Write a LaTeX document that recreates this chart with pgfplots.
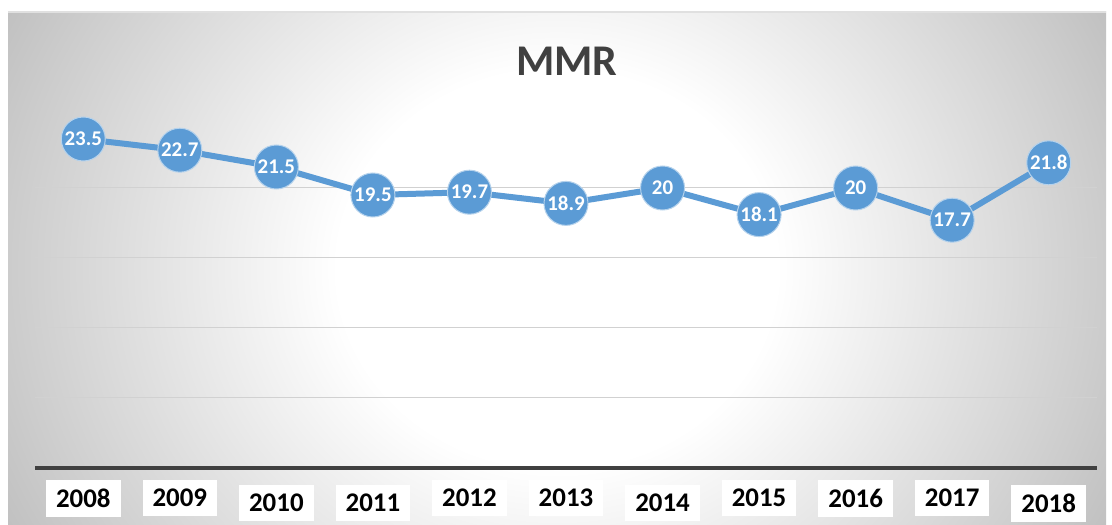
\documentclass[border=0pt]{standalone}
\usepackage{pgfplots}
\pgfplotsset{compat=1.18}
\usepackage{fontspec}
\setmainfont{Carlito}
\definecolor{lineblue}{HTML}{5B9BD5}
\definecolor{titlegray}{HTML}{404040}
\pgfdeclareradialshading{bgshade}{\pgfpoint{0bp}{0bp}}{color(0bp)=(white); color(10bp)=(white); color(25bp)=(black!20); color(30bp)=(black!27); color(50bp)=(black!27)}
\begin{document}
\begin{tikzpicture}
\path[use as bounding box] (0,0) rectangle (1112bp,525bp);
\begin{scope}
\clip (8bp,0) rectangle (1106bp,513bp);
\shade[shading=bgshade] (8bp,-240bp) rectangle (1106bp,753bp);
\end{scope}
\draw[black!12, line width=1.5bp] (8bp,513bp) -- (1106bp,513bp);
\node[font=\bfseries\fontsize{44}{50}\selectfont, text=titlegray] at (567bp,464bp) {MMR};
\begin{axis}[
  at={(35bp,57bp)}, anchor=south west, scale only axis,
  width=1062bp, height=350bp,
  xmin=-0.5, xmax=10.5, ymin=0, ymax=25,
  axis x line*=bottom, axis y line*=left,
  y axis line style={draw=none},
  x axis line style={draw=black!75, line width=3bp},
  ytick={5,10,15,20}, yticklabels={}, ytick style={draw=none},
  ymajorgrids, major grid style={draw=black!18, line width=1bp},
  xtick={0,1,4,5,7,8,9},
  xticklabels={2008,2009,2012,2013,2015,2016,2017},
  extra x ticks={2,3,6,10},
  extra x tick labels={2010,2011,2014,2018},
  extra x tick style={xticklabel style={yshift=-5bp}},
  xtick style={draw=none},
  xticklabel style={fill=white, text=black, font=\bfseries\fontsize{27}{31}\selectfont, inner xsep=10bp, inner ysep=9bp, yshift=-12bp},
  clip=false,
  nodes near coords,
  every node near coord/.append style={anchor=center, text=white, font=\bfseries\fontsize{21}{25}\selectfont},
  /pgf/number format/assume math mode=true,
]
\addplot[color=lineblue, line width=6bp, mark=*, mark size=22bp,
  mark options={fill=lineblue, draw=white!55!lineblue, line width=1bp}]
  coordinates {(0,23.5) (1,22.7) (2,21.5) (3,19.5) (4,19.7) (5,18.9) (6,20) (7,18.1) (8,20) (9,17.7) (10,21.8)};
\end{axis}
\end{tikzpicture}
\end{document}
